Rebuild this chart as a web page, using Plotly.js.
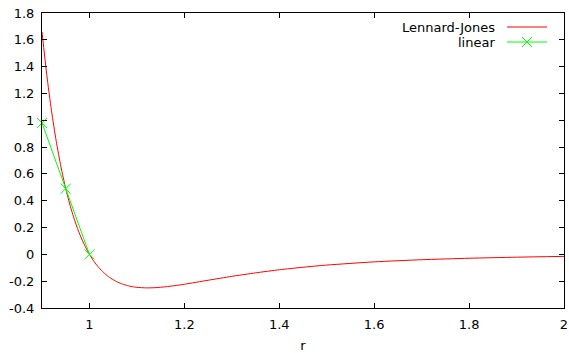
<!DOCTYPE html>
<html>
<head>
<meta charset="utf-8">
<script src="https://cdn.plot.ly/plotly-3.0.1.min.js"></script>
<style>html,body{margin:0;padding:0;background:#fff;}#plot{width:569px;height:353px;}</style>
</head>
<body>
<div id="plot"></div>
<script>
// Lennard-Jones curve samples
const ljR = [0.90,0.91,0.92,0.93,0.94,0.95,0.96,0.97,0.98,0.99,1.00,1.01,1.02,1.03,1.04,1.05,1.06,1.07,1.08,1.09,1.10,1.12,1.14,1.16,1.18,1.20,1.25,1.30,1.35,1.40,1.45,1.50,1.60,1.70,1.80,1.90,2.00];
const ljV = [1.659,1.340,1.071,0.843,0.652,0.490,0.355,0.241,0.146,0.066,0.000,-0.055,-0.100,-0.136,-0.166,-0.189,-0.208,-0.222,-0.233,-0.241,-0.246,-0.250,-0.248,-0.242,-0.233,-0.223,-0.193,-0.164,-0.138,-0.115,-0.096,-0.080,-0.056,-0.040,-0.029,-0.021,-0.015];
// linear series
const linR = [0.90,0.95,1.00];
const linV = [0.98,0.49,0.00];
const xTicks = [1,1.2,1.4,1.6,1.8,2];
const yTicks = [-0.4,-0.2,0,0.2,0.4,0.6,0.8,1,1.2,1.4,1.6,1.8];

const font = {family:'DejaVu Sans, sans-serif', size:13, color:'#000'};
const traces = [
  {x:ljR, y:ljV, mode:'lines', line:{color:'#ff0000', width:1, shape:'spline', smoothing:0.6}, name:'Lennard-Jones', showlegend:false},
  {x:linR, y:linV, mode:'lines+markers', line:{color:'#00ff00', width:1}, marker:{symbol:'x-thin-open', size:10, line:{color:'#00ff00', width:1}}, name:'linear', showlegend:false, cliponaxis:false}
];
const axisBase = {showline:true, mirror:'ticks', linecolor:'#000', linewidth:1, ticks:'inside', ticklen:5, tickcolor:'#000', showgrid:false, zeroline:false, tickfont:font};
const px = 522, py = 295;
const layout = {
  width:569, height:353,
  margin:{l:42, r:5, t:13, b:45},
  paper_bgcolor:'#fff', plot_bgcolor:'#fff',
  font:font,
  showlegend:false,
  xaxis:Object.assign({}, axisBase, {range:[0.9,2], tickvals:xTicks, ticktext:xTicks.map(String), ticklabelstandoff:4, title:{text:'r', font:font, standoff:14}}),
  yaxis:Object.assign({}, axisBase, {range:[-0.4,1.8], tickvals:yTicks, ticktext:yTicks.map(String), ticklabelstandoff:4}),
  annotations:[
    {xref:'paper', yref:'paper', x:(497-42)/px, y:(308-27)/py, xanchor:'right', yanchor:'middle', text:'Lennard-Jones', showarrow:false, font:font},
    {xref:'paper', yref:'paper', x:(497-42)/px, y:(308-42)/py, xanchor:'right', yanchor:'middle', text:'linear', showarrow:false, font:font}
  ],
  shapes:[
    {type:'line', xref:'paper', yref:'paper', x0:(507-42)/px, x1:(547-42)/px, y0:(308-27)/py, y1:(308-27)/py, line:{color:'#ff0000', width:1}},
    {type:'line', xref:'paper', yref:'paper', x0:(507-42)/px, x1:(547-42)/px, y0:(308-42)/py, y1:(308-42)/py, line:{color:'#00ff00', width:1}},
    {type:'line', xref:'paper', yref:'paper', x0:(522-42)/px, x1:(532-42)/px, y0:(308-37)/py, y1:(308-47)/py, line:{color:'#00ff00', width:1}},
    {type:'line', xref:'paper', yref:'paper', x0:(522-42)/px, x1:(532-42)/px, y0:(308-47)/py, y1:(308-37)/py, line:{color:'#00ff00', width:1}}
  ]
};
Plotly.newPlot('plot', traces, layout, {staticPlot:true, displayModeBar:false});
</script>
</body>
</html>
